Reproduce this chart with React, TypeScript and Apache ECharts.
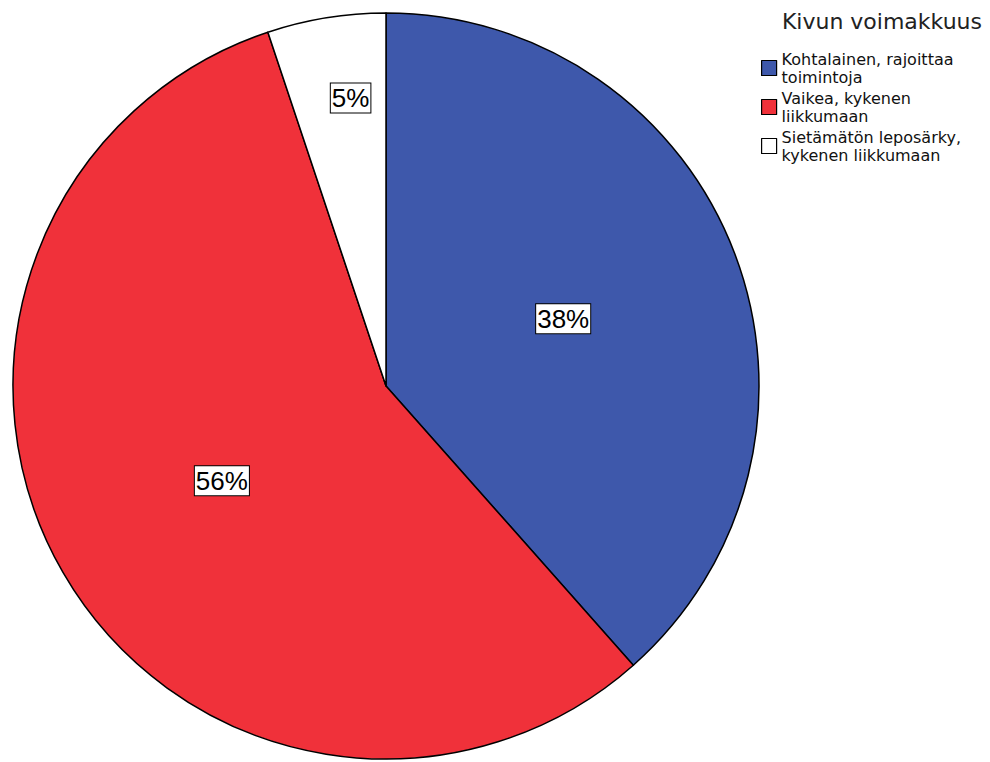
import React, { useEffect, useRef } from "react";
import * as echarts from "echarts";

const categories = [
  "Kohtalainen, rajoittaa toimintoja",
  "Vaikea, kykenen liikkumaan",
  "Sietämätön leposärky, kykenen liikkumaan",
];
const legendLines = [
  "Kohtalainen, rajoittaa\ntoimintoja",
  "Vaikea, kykenen\nliikkumaan",
  "Sietämätön leposärky,\nkykenen liikkumaan",
];
const counts = [15, 22, 2];
const colors = ["#3e58ab", "#f0313a", "#ffffff"];
const legendTitle = "Kivun voimakkuus";

export default function App() {
  const ref = useRef<HTMLDivElement>(null);
  useEffect(() => {
    if (!ref.current) return;
    const chart = echarts.init(ref.current, null, { renderer: "svg" });
    const total = counts.reduce((a, b) => a + b, 0);
    chart.setOption({
      animation: false,
      backgroundColor: "#ffffff",
      title: {
        text: legendTitle,
        right: 8,
        top: 10,
        padding: 0,
        textStyle: {
          fontFamily: "DejaVu Sans",
          fontSize: 22,
          fontWeight: "normal",
          color: "#222",
        },
      },
      legend: {
        orient: "vertical",
        left: 761,
        top: 50,
        padding: 0,
        itemWidth: 15,
        itemHeight: 15,
        itemGap: 3,
        icon: "rect",
        data: categories,
        formatter: (name: string) => legendLines[categories.indexOf(name)],
        textStyle: {
          fontFamily: "DejaVu Sans",
          fontSize: 16,
          lineHeight: 18,
          color: "#111",
        },
        itemStyle: { borderColor: "#000", borderWidth: 1.2 },
      },
      series: [
        {
          type: "pie",
          center: [386, 386],
          radius: [0, 373],
          startAngle: 90,
          clockwise: true,
          avoidLabelOverlap: false,
          itemStyle: { borderColor: "#000", borderWidth: 1.5 },
          emphasis: { disabled: true },
          label: {
            show: true,
            position: "inside",
            formatter: (p: any) => Math.round((p.value / total) * 100) + "%",
            fontFamily: "Liberation Sans",
            fontSize: 26,
            color: "#000",
            backgroundColor: "#fff",
            borderColor: "#000",
            borderWidth: 1,
            padding: [2, 1, 1, 1],
          },
          labelLine: { show: false },
          labelLayout: (params: any) =>
            params.dataIndex === 2 ? { dx: -5, dy: -101 } : {},
          data: categories.map((c, i) => ({
            name: c,
            value: counts[i],
            itemStyle: { color: colors[i] },
          })),
        },
      ],
    });
    return () => chart.dispose();
  }, []);
  return (
    <div
      ref={ref}
      style={{ position: "fixed", left: 0, top: 0, width: 990, height: 762 }}
    />
  );
}
